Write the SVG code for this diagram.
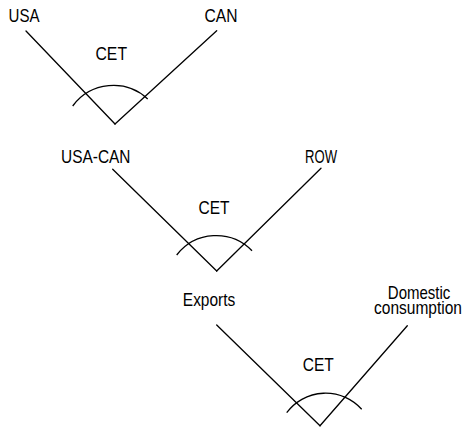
<svg xmlns="http://www.w3.org/2000/svg" width="464" height="428" viewBox="0 0 464 428">
  <style>
    /* narrow sans look: 15px advance widths, glyphs stretched vertically */
    .lbl { font-family: "Liberation Sans", Arial, sans-serif; font-size: 15px; fill: #000; }
    .edge { stroke: #000; stroke-width: 1.3; fill: none; stroke-linecap: round; }
    .cet { stroke: #000; stroke-width: 1.3; fill: none; }
  </style>
  <rect width="464" height="428" fill="#fff"/>

  <!-- branches of the three nesting levels -->
  <g id="connectors">
    <line class="edge" x1="26" y1="31" x2="115" y2="124"/>
    <line class="edge" x1="216.7" y1="30.7" x2="115" y2="124"/>
    <line class="edge" x1="112.7" y1="169.3" x2="216.7" y2="271"/>
    <line class="edge" x1="321" y1="168.3" x2="216.7" y2="271"/>
    <line class="edge" x1="216.7" y1="325" x2="320" y2="425.7"/>
    <line class="edge" x1="407.3" y1="325.7" x2="320" y2="425.7"/>
  </g>

  <!-- leaf labels -->
  <g id="usa"><text class="lbl" transform="translate(8.5,21.5) scale(1,1.17)" textLength="31" lengthAdjust="spacingAndGlyphs">USA</text></g>
  <g id="can"><text class="lbl" transform="translate(204.5,21.5) scale(1,1.17)" textLength="33" lengthAdjust="spacingAndGlyphs">CAN</text></g>
  <g id="usa-can"><text class="lbl" transform="translate(61,163.3) scale(1,1.17)" textLength="69.5" lengthAdjust="spacingAndGlyphs">USA-CAN</text></g>
  <g id="row"><text class="lbl" transform="translate(305,163.3) scale(1,1.17)" textLength="32" lengthAdjust="spacingAndGlyphs">ROW</text></g>
  <g id="exports"><text class="lbl" transform="translate(182.8,305.7) scale(1,1.17)" textLength="52.5" lengthAdjust="spacingAndGlyphs">Exports</text></g>
  <g id="domestic">
    <text class="lbl" transform="translate(387.8,298.8) scale(1,1.17)" textLength="62.5" lengthAdjust="spacingAndGlyphs">Domestic</text>
    <text class="lbl" transform="translate(374,314) scale(1,1.17)" textLength="88" lengthAdjust="spacingAndGlyphs">consumption</text>
  </g>

  <!-- CET aggregation nodes: arc across the branches plus label -->
  <g id="cet-1">
    <path class="cet" d="M72.7,106 A50.5,50.5 0 0 1 147.7,99"/>
    <text class="lbl" transform="translate(95.5,59.5) scale(1,1.17)" textLength="31.5" lengthAdjust="spacingAndGlyphs">CET</text>
  </g>
  <g id="cet-2">
    <path class="cet" d="M176.7,255 A50,50 0 0 1 252,250.7"/>
    <text class="lbl" transform="translate(198.5,214) scale(1,1.17)" textLength="31" lengthAdjust="spacingAndGlyphs">CET</text>
  </g>
  <g id="cet-3">
    <path class="cet" d="M286.7,412.7 A48.5,48.5 0 0 1 361.7,409.3"/>
    <text class="lbl" transform="translate(302.8,370.7) scale(1,1.17)" textLength="31" lengthAdjust="spacingAndGlyphs">CET</text>
  </g>
</svg>
